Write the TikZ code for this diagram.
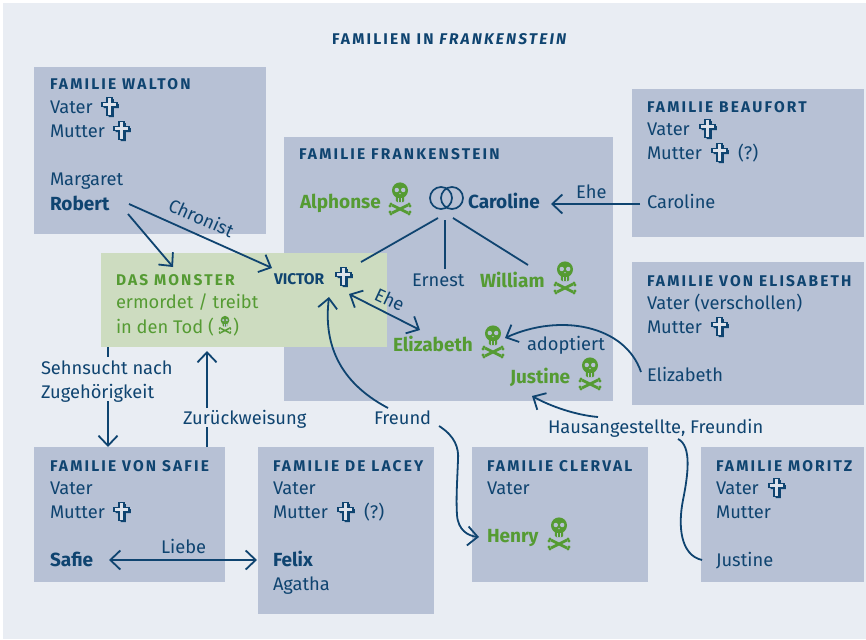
\documentclass[tikz,border=0pt]{standalone}
\usepackage{fontspec}
\setmainfont{Fira Sans}
\usetikzlibrary{arrows.meta}
\definecolor{navy}{HTML}{0F4470}
\definecolor{grn}{HTML}{559B33}
\definecolor{boxc}{HTML}{B7C1D5}
\definecolor{bgc}{HTML}{E9EDF3}
\definecolor{monc}{HTML}{CDDCC0}
\newcommand{\capsfont}{\addfontfeatures{LetterSpace=14}\bfseries}
\tikzset{
  fam/.style={fill=boxc,draw=none,anchor=north west,inner sep=0,outer sep=0},
  txt/.style={anchor=base west,inner sep=0,outer sep=0,text=navy,yshift=-1pt,font=\fontsize{18.3}{22}\selectfont},
  bold/.style={txt,font=\fontsize{19}{22}\selectfont\bfseries},
  grnb/.style={bold,text=grn},
  grnt/.style={txt,text=grn},
  head/.style={txt,font=\fontsize{15.5}{18}\selectfont\capsfont},
  conn/.style={draw=navy,line width=1.8pt},
  arr/.style={conn,-{Straight Barb[length=10pt,width=19pt,line width=1.8pt]}},
  darr/.style={conn,{Straight Barb[length=10pt,width=19pt,line width=1.8pt]}-{Straight Barb[length=10pt,width=19pt,line width=1.8pt]}},
  ringn/.style={circle,draw=navy,line width=1.7pt,minimum size=22pt,inner sep=0},
  pics/kreuz/.style={code={
    \def\crosspath{(-3.2,-9.5) -- (2.2,-9.5) -- (2.2,-4.5) -- (7.2,-4.5) -- (7.2,-0.5) -- (2.2,-0.5) -- (2.2,8.5) -- (-3.2,8.5) -- (-3.2,-0.5) -- (-8.2,-0.5) -- (-8.2,-4.5) -- (-3.2,-4.5) -- cycle}
    \fill[navy,shift={(1.7,1.7)}] \crosspath;
    \draw[navy,fill=bgc!75!boxc,line width=1.7pt,line join=miter] \crosspath;
  }},
  pics/skull/.style={code={
    \begin{scope}[scale=#1]
      \fill[grn] (0,-8.6) circle[radius=8];
      \fill[grn,rounded corners=1.2] (-4.2,-5) rectangle (4.2,3);
      \fill[boxc] (-3.2,-9) circle[radius=2.2] (3.2,-9) circle[radius=2.2];
      \fill[boxc] (0,-5.4) circle[radius=.8];
      \draw[boxc,line width=#1*.5pt] (-1.4,-1) -- (-1.4,3) (1.4,-1) -- (1.4,3);
      \draw[grn,line width=#1*2.8pt] (-8,6) -- (8,14) (-8,14) -- (8,6);
      \fill[grn] (-9,5) circle[radius=1.7] (-10,7) circle[radius=1.7] (9,5) circle[radius=1.7] (10,7) circle[radius=1.7]
                 (-9,15) circle[radius=1.7] (-10,13) circle[radius=1.7] (9,15) circle[radius=1.7] (10,13) circle[radius=1.7];
    \end{scope}
  }},
}
\begin{document}
\begin{tikzpicture}[x=1pt,y=-1pt]
\useasboundingbox (0,0) rectangle (866,639);
\fill[bgc] (3,3) rectangle (866,639);
% boxes
\node[fam,minimum width=232pt,minimum height=167pt] (walton) at (34,67) {};
\node[fam,minimum width=329pt,minimum height=264pt] (frank) at (284,137) {};
\node[fam,minimum width=232pt,minimum height=148pt] (beaufort) at (632,89) {};
\node[fam,minimum width=232pt,minimum height=143pt] (elis) at (632,262) {};
\node[fam,minimum width=191pt,minimum height=135pt] (safie) at (34,447) {};
\node[fam,minimum width=176pt,minimum height=167pt] (lacey) at (258,447) {};
\node[fam,minimum width=176pt,minimum height=135pt] (clerval) at (472,447) {};
\node[fam,minimum width=163pt,minimum height=135pt] (moritz) at (701,447) {};
\node[fam,fill=monc,minimum width=286pt,minimum height=94pt] (monster) at (101,253) {};
% title
\node[head] (title) at (332,44) {FAMILIEN IN {\itshape FRANKENSTEIN}};
% Walton
\node[head] (hw) at (50,89) {FAMILIE WALTON};
\node[txt] (wv) at (50,113) {Vater};
\node[txt] (wm) at (50,137) {Mutter};
\node[txt] (margaret) at (50,184) {Margaret};
\node[bold] (robert) at (50,209) {Robert};
\pic at (110,107) {kreuz};
\pic at (122,131) {kreuz};
% Frankenstein
\node[head] (hf) at (299,159) {FAMILIE FRANKENSTEIN};
\node[grnb] (alphonse) at (300,207) {Alphonse};
\pic at (400,199) {skull=1};
\node[ringn] (ring1) at (441,198) {};
\node[ringn] (ring2) at (452,198) {};
\node[bold] (caroline) at (468,207) {Caroline};
\node[txt] (ernest) at (412,285) {Ernest};
\node[grnb] (william) at (480,286) {William};
\pic at (565,278) {skull=1};
\node[grnb] (elizabeth) at (393,350) {Elizabeth};
\pic at (493,342) {skull=1};
\node[txt] (adopt) at (527,349) {adoptiert};
\node[grnb] (justine) at (510,382) {Justine};
\pic at (590,374) {skull=1};
% Monster
\node[head,text=grn] (hm) at (116,284) {DAS MONSTER};
\node[grnt] (mord) at (116,307) {ermordet / treibt};
\node[grnt] (tod) at (116,332) {in den Tod (\hspace{19pt})};
\pic at (225,325) {skull=.55};
\node[bold,font=\fontsize{15.5}{18}\selectfont\bfseries] (victor) at (274,283) {VICTOR};
\pic at (344,277) {kreuz};
% Beaufort
\node[head] (hb) at (647,112) {FAMILIE BEAUFORT};
\node[txt] (bv) at (647,135) {Vater};
\node[txt] (bm) at (647,159) {Mutter};
\node[txt] (bq) at (738,159) {(?)};
\node[txt] (carolineb) at (647,207) {Caroline};
\pic at (708,129) {kreuz};
\pic at (720,153) {kreuz};
% Elisabeth
\node[head] (he) at (647,285) {FAMILIE VON ELISABETH};
\node[txt] (ev) at (647,308) {Vater (verschollen)};
\node[txt] (em) at (647,332) {Mutter};
\node[txt] (elizabethe) at (647,380) {Elizabeth};
\pic at (720,327) {kreuz};
% Safie
\node[head] (hs) at (50,470) {FAMILIE VON SAFIE};
\node[txt] (sv) at (50,493) {Vater};
\node[txt] (sm) at (50,517) {Mutter};
\node[bold] (safien) at (50,565) {Safie};
\pic at (122,512) {kreuz};
% De Lacey
\node[head] (hl) at (273,470) {FAMILIE DE LACEY};
\node[txt] (lv) at (273,493) {Vater};
\node[txt] (lm) at (273,517) {Mutter};
\node[txt] (lq) at (364,517) {(?)};
\node[bold] (felix) at (273,565) {Felix};
\node[txt] (agatha) at (273,589) {Agatha};
\pic at (346,512) {kreuz};
% Clerval
\node[head] (hc) at (487,470) {FAMILIE CLERVAL};
\node[txt] (cv) at (487,493) {Vater};
\node[grnb] (henry) at (487,541) {Henry};
\pic at (559,534) {skull=1};
% Moritz
\node[head] (hz) at (716,470) {FAMILIE MORITZ};
\node[txt] (zv) at (716,493) {Vater};
\node[txt] (zm) at (716,517) {Mutter};
\node[txt] (justinem) at (716,565) {Justine};
\pic at (777,488) {kreuz};
% labels
\node[txt,rotate=-24] (chronist) at (167,209) {Chronist};
\node[txt] (ehe1) at (576,197) {Ehe};
\node[txt,rotate=-25] (ehe2) at (373,298) {Ehe};
\node[txt] (sehn) at (41,373) {Sehnsucht nach};
\node[txt] (zug) at (41,397) {Zugehörigkeit};
\node[txt] (zur) at (183,423) {Zurückweisung};
\node[txt] (freund) at (374,423) {Freund};
\node[txt] (haus) at (548,432) {Hausangestellte, Freundin};
\node[txt] (liebe) at (161,552) {Liebe};
% connectors
\draw[arr] ([shift={(79,-6)}]robert.base west) -- ([shift={(-2,-16)}]victor.base west);
\draw[arr] ([shift={(78,4)}]robert.base west) -- ([shift={(57,-18)}]hm.base west);
\draw[conn] ([shift={(-3,20)}]ring1.center) -- ([shift={(87,-22)}]victor.base west);
\draw[conn] ([shift={(4,22)}]ring1.center) -- ([shift={(33,-17)}]ernest.base west);
\draw[conn] ([shift={(12,20)}]ring1.center) -- ([shift={(48,-22)}]william.base west);
\draw[arr] ([shift={(-7,-4)}]carolineb.base west) -- ([shift={(83,-4)}]caroline.base west);
\draw[darr] ([shift={(75,10)}]victor.base west) -- ([shift={(27,-21)}]elizabeth.base west);
\draw[arr] ([shift={(-6,-9)}]elizabethe.base west) .. controls (625,325) and (560,313) .. ([shift={(112,-13)}]elizabeth.base west);
\draw[arr] ([shift={(50,-16)}]haus.base west) .. controls (575,415) and (550,406) .. ([shift={(22,13)}]justine.base west);
\draw[conn] ([shift={(130,6)}]haus.base west) .. controls (692,446) and (688,475) .. (683,500) .. controls (678,525) and (680,555) .. ([shift={(-14,-6)}]justinem.base west);
\draw[arr] ([shift={(14,-16)}]freund.base west) .. controls (350,388) and (322,355) .. ([shift={(55,13)}]victor.base west);
\draw[arr] ([shift={(65,2)}]freund.base west) .. controls (455,436) and (459,448) .. (458,460) .. controls (457,485) and (456,500) .. (457,515) .. controls (458,530) and (468,536) .. ([shift={(-8,-5)}]henry.base west);
\draw[conn] ([shift={(7,0)}]monster.south west) -- ([shift={(67,-17)}]sehn.base west);
\draw[arr] ([shift={(67,3)}]zug.base west) -- ([shift={(74,0)}]safie.north west);
\draw[conn] ([shift={(173,0)}]safie.north west) -- ([shift={(24,3)}]zur.base west);
\draw[arr] ([shift={(24,-16)}]zur.base west) -- ([shift={(106,4)}]monster.south west);
\draw[darr] ([shift={(59,-6)}]safien.base west) -- ([shift={(-16,-6)}]felix.base west);
\end{tikzpicture}
\end{document}
